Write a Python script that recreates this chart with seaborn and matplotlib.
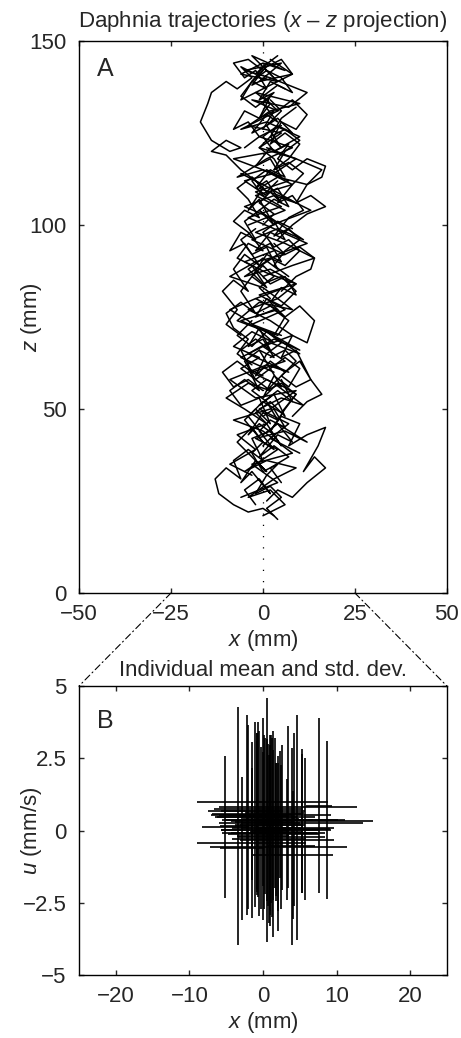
import pandas as pd
import numpy as np
import matplotlib
matplotlib.use("Agg")
import matplotlib.pyplot as plt
from matplotlib.patches import ConnectionPatch
import seaborn as sns

# Panel A: digitised trajectories (x, z in mm)
traj_a_x = [3, 0, -4, -8, -12, -13, -10, -6, -8, -4, 0, -3, 2, 5, 1, -2, 2, 6, 3, -1, 4, 8, 5]
traj_a_z = [21, 23, 22, 24, 27, 31, 34, 31, 36, 39, 36, 42, 44, 40, 46, 49, 52, 48, 54, 51, 55, 52, 58]
traj_b_x = [1, 4, 8, 12, 17, 14, 11, 15, 17, 12, 7, 10, 5, 2, 6, 9, 4, 0, 3, 7, 10, 6, 2, -1]
traj_b_z = [25, 28, 26, 30, 34, 37, 33, 40, 45, 43, 40, 46, 48, 44, 50, 54, 57, 53, 59, 56, 61, 64, 61, 66]
traj_c_x = [-2, -5, -1, 2, -3, -6, -2, 1, -4, -7, -3, 0, -5, -2, 2, -1, -6, -9, -5, -1, -4, 0]
traj_c_z = [24, 28, 31, 27, 33, 30, 36, 33, 38, 41, 45, 41, 47, 50, 46, 53, 51, 55, 58, 55, 61, 59]
traj_d_x = [5, 2, 7, 3, -1, 4, 8, 4, 0, -4, 0, 5, 9, 5, 1, 6, 2, -2, 1, 5, 1, -3, -7, -3]
traj_d_z = [30, 34, 37, 40, 37, 43, 41, 46, 43, 48, 52, 49, 54, 57, 55, 60, 63, 59, 65, 68, 71, 67, 70, 74]
traj_e_x = [0, -4, -8, -11, -7, -3, -6, -2, 2, -1, 4, 7, 3, -2, 1, 5, 9, 5, 0, -4, 0, 4, 1, -3, -6, -2]
traj_e_z = [55, 58, 56, 60, 63, 60, 66, 69, 66, 72, 70, 74, 77, 75, 80, 78, 82, 86, 84, 88, 91, 88, 94, 92, 96, 99]
traj_f_x = [6, 10, 13, 9, 5, 8, 12, 14, 10, 6, 2, 5, 9, 6, 2, -2, 2, 6, 10, 7, 3, 0, 4, 8]
traj_f_z = [60, 63, 58, 66, 64, 70, 68, 74, 78, 75, 79, 83, 81, 86, 84, 88, 91, 89, 93, 96, 94, 98, 101, 99]
traj_g_x = [-6, -10, -7, -11, -8, -4, -8, -5, -1, -5, -9, -6, -2, -5, -1, 3, -1, -4, 0, -3, 1, 4]
traj_g_z = [70, 73, 77, 82, 85, 82, 88, 92, 89, 95, 93, 98, 96, 101, 104, 100, 107, 104, 110, 113, 109, 112]
traj_h_x = [2, -1, 3, 0, -3, 1, 5, 2, -2, 2, 6, 3, -1, 3, 7, 4, 0, -3, 1, 5, 2, -2, 2, 5]
traj_h_z = [80, 83, 86, 89, 86, 92, 90, 95, 93, 98, 96, 101, 104, 107, 105, 110, 108, 112, 115, 113, 118, 116, 121, 119]
traj_i_x = [4, 8, 12, 17, 13, 9, 12, 16, 17, 12, 8, 4, 7, 3, 0, 4, 8, 4, 1, 5, 2]
traj_i_z = [96, 100, 103, 105, 108, 106, 111, 113, 116, 118, 115, 118, 122, 120, 124, 127, 125, 129, 127, 131, 134]
traj_j_x = [-2, -6, -10, -14, -10, -6, -9, -14, -17, -15, -14, -10, -7, -3, -6, -2, 1, -3, -6, -2, 2, -1, 3, 0]
traj_j_z = [112, 115, 119, 120, 123, 121, 120, 123, 128, 133, 136, 139, 137, 140, 143, 141, 144, 139, 135, 132, 135, 129, 131, 126]
traj_k_x = [3, 7, 10, 6, 2, 5, 9, 12, 8, 4, 0, 4, 8, 5, 1, -3, 1, 5, 8, 4, 0, 4]
traj_k_z = [115, 118, 122, 125, 122, 128, 126, 130, 134, 131, 135, 138, 136, 140, 142, 139, 143, 145, 141, 139, 143, 146]
traj_l_x = [-5, -1, -4, -8, -5, -1, 2, -2, -6, -3, 1, -2, -5, -8, -4, 0, -3, 1]
traj_l_z = [121, 124, 128, 126, 131, 129, 133, 136, 134, 139, 137, 142, 140, 144, 145, 142, 138, 140]
traj_m_x = [0, 3, -1, -4, 0, 4, 1, -3, 1, 5, 2, -2, -5, -1, 3, 0, -4, -1, 3, 6, 2, -2]
traj_m_z = [40, 43, 46, 43, 49, 47, 52, 55, 58, 56, 61, 58, 63, 66, 64, 69, 67, 72, 70, 75, 78, 76]
traj_n_x = [0, 3, -1, 2, 5, 1, -2, 2, 6, 3, -1, 2, 5, 1, -3, 1, 4, 0, 3, -1, 2, 6]
traj_n_z = [100, 103, 106, 109, 106, 112, 110, 115, 113, 118, 121, 124, 121, 127, 125, 130, 128, 133, 136, 134, 139, 137]
traj_o_x = [8, 12, 16, 13, 9, 5, 9, 6, 2]
traj_o_z = [48, 52, 54, 58, 56, 59, 63, 66, 64]
traj_p_x = [5, 9, 13, 14, 10, 6, 3]
traj_p_z = [82, 86, 88, 91, 94, 92, 95]
traj_q_x = [4, 1, 5, 2, -2, 1, 4, 0, -3, 0, 3, -1, 2, 6, 3, 0]
traj_q_z = [20, 23, 26, 29, 27, 32, 35, 33, 38, 41, 39, 44, 47, 45, 50, 48]
traj_r_x = [-3, -7, -4, -8, -10, -6, -2, -6, -3, 1, -3, -7, -4, 0, -4, -8, -5, -1, -4, -7, -3]
traj_r_z = [62, 65, 69, 72, 76, 79, 76, 82, 86, 83, 89, 91, 95, 93, 98, 101, 104, 102, 107, 110, 113]
traj_s_x = [7, 3, 6, 10, 7, 3, 7, 11, 8, 4, 8, 11, 7, 3, 6, 10, 6, 2, 5, 9]
traj_s_z = [86, 89, 93, 96, 99, 97, 102, 104, 108, 106, 111, 114, 117, 115, 120, 123, 126, 124, 129, 132]
traj_t_x = [-6, 4, -3, 8, 0, -8, 2, 9, -2, -9, 1, 7, -4, 3, 10, 1, -6, 4, -2, 6]
traj_t_z = [26, 30, 35, 38, 44, 47, 50, 55, 53, 58, 62, 60, 65, 69, 66, 71, 74, 77, 80, 83]
traj_u_x = [3, -6, 2, 10, 1, -7, -1, 8, 0, -9, -2, 6, -3, 4, 11, 2, -5, 3, 9, 0, -6]
traj_u_z = [60, 64, 68, 65, 71, 74, 79, 77, 83, 86, 90, 92, 96, 99, 96, 102, 105, 108, 106, 111, 114]
traj_v_x = [-4, 6, -2, 8, 0, -8, 3, 10, 1, -6, 4, -3, 7, 12, 2, -5, 5, -1, 8, 2]
traj_v_z = [100, 104, 108, 111, 115, 118, 120, 124, 128, 126, 131, 134, 132, 136, 140, 142, 144, 139, 141, 145]
traj_w_x = [-3, -9, -2, -7, 1, -5, -10, -4, 2, -6, -1, -8, -3, 3, -4, -9, -2]
traj_w_z = [32, 35, 39, 43, 46, 50, 53, 57, 55, 61, 64, 67, 71, 68, 74, 77, 80]
traj_x_x = [5, -3, 6, -1, 9, 2, -5, 4, 12, 3, -4, 5, -2, 7, 0, -7, 1, 8, -1, 5]
traj_x_z = [70, 73, 77, 81, 84, 88, 86, 92, 95, 99, 102, 105, 109, 112, 115, 113, 118, 121, 124, 127]
traj_y_x = [10, 2, 7, -1, 5, 11, 3, -3, 6, 0, 8, 2, -4, 4, 9, 1, -5, 3]
traj_y_z = [38, 42, 46, 50, 53, 51, 57, 60, 63, 67, 70, 74, 77, 80, 84, 87, 90, 93]
traj_z_x = [1, -5, 3, 9, -1, 5, -4, 2, 10, -2, 4, -6, 0, 6, -3, 3]
traj_z_z = [108, 112, 114, 118, 121, 125, 127, 131, 133, 136, 139, 141, 144, 142, 146, 140]
traj_aa_x = [0, 6, 2, -4, 3, 9, 1, -5, 4, -2, 6, 12, 4]
traj_aa_z = [21, 24, 28, 26, 31, 34, 36, 33, 39, 42, 44, 41, 46]
traj_ab_x = [0, 8, 14, 6, -2, 5, 13, 7, -1, 4, 12, 16, 9, 1]
traj_ab_z = [86, 89, 91, 95, 98, 101, 104, 107, 110, 113, 111, 115, 118, 121]

# Panel B: individual mean and std. dev. of x (mm) and u (mm/s)
mean_x = [-5.1, -3.36, -2.85, -2.22, -2.0, -1.54, -1.04, -0.72, -0.04, 0.5, 0.95, 1.4, 1.77, 2.08,
          2.49, 3.22, 3.9, 4.2, 4.62, 5.66, 7.65, 8.65, 3.4, -1.5, 2.1, 4.1, 5.3, 5.3, -0.87, -0.75,
          -0.86, 0.9, 0.2, 0.7, 1.1, 1.2, 0.0, 1.6, 2.6, -0.3,
          0.3, 0.8, 1.3, 1.0, 0.6, -0.5, 1.8, 2.3]
sd_x = [3.2, 2.5, 3.0, 4.8, 4.5, 4.2, 5.0, 6.0, 8.9, 5.5, 6.6, 6.2, 7.5, 6.4,
        5.9, 6.4, 3.2, 6.0, 5.0, 3.5, 1.8, 2.5, 9.4, 7.4, 9.3, 5.4, 9.6, 8.3, 6.57, 6.23,
        5.44, 6.4, 4.0, 4.5, 3.8, 4.2, 3.5, 4.0, 4.5, 3.9,
        3.0, 5.0, 4.4, 2.5, 6.2, 5.5, 3.5, 7.0]
mean_u = [0.13, 0.16, -0.62, 0.54, 0.47, 0.68, 0.55, 0.73, 0.99, 0.36, 0.02, -0.12, 0.02, -0.1,
          -0.22, -0.32, -0.55, 0.38, 0.1, 0.05, 0.86, 0.36, 0.82, -0.44, -0.58, -0.85, 0.33, 0.25, 0.69, 0.57,
          0.48, -0.1, 0.3, 0.2, 0.4, 0.1, -0.2, 0.6, 0.45, 0.1,
          0.5, -0.3, 0.2, 0.0, 0.35, 0.25, -0.05, 0.55]
sd_u = [2.45, 4.12, 2.48, 3.46, 3.17, 2.39, 3.2, 3.03, 2.9, 4.21, 2.94, 3.55, 2.3, 2.67,
        2.5, 2.1, 3.4, 2.98, 3.9, 2.45, 3.02, 2.73, 2.8, 2.6, 2.9, 2.2, 2.5, 2.4, 2.7, 2.8,
        2.6, 2.7, 3.0, 2.8, 2.9, 3.1, 2.9, 2.6, 2.5, 2.8,
        2.7, 2.9, 2.6, 3.3, 2.8, 3.2, 2.4, 2.2]

tracks = [
    (traj_a_x, traj_a_z), (traj_b_x, traj_b_z), (traj_c_x, traj_c_z), (traj_d_x, traj_d_z),
    (traj_e_x, traj_e_z), (traj_f_x, traj_f_z), (traj_g_x, traj_g_z), (traj_h_x, traj_h_z),
    (traj_i_x, traj_i_z), (traj_j_x, traj_j_z), (traj_k_x, traj_k_z), (traj_l_x, traj_l_z),
    (traj_m_x, traj_m_z), (traj_n_x, traj_n_z), (traj_o_x, traj_o_z), (traj_p_x, traj_p_z),
    (traj_q_x, traj_q_z), (traj_r_x, traj_r_z), (traj_s_x, traj_s_z), (traj_t_x, traj_t_z),
    (traj_u_x, traj_u_z), (traj_v_x, traj_v_z), (traj_w_x, traj_w_z), (traj_x_x, traj_x_z),
    (traj_y_x, traj_y_z), (traj_z_x, traj_z_z), (traj_aa_x, traj_aa_z), (traj_ab_x, traj_ab_z),
]
rows = []
for i, (tx, tz) in enumerate(tracks):
    for j, (xv, zv) in enumerate(zip(tx, tz)):
        rows.append({"id": i, "step": j, "x": xv, "z": zv})
df = pd.DataFrame(rows)

sns.set_style("ticks")
plt.rcParams["font.family"] = ["Liberation Sans", "DejaVu Sans"]
plt.rcParams["mathtext.fontset"] = "custom"
plt.rcParams["mathtext.rm"] = "Liberation Sans"
plt.rcParams["mathtext.it"] = "Liberation Sans:italic"
plt.rcParams["axes.linewidth"] = 1.0
plt.rcParams["xtick.direction"] = "in"
plt.rcParams["ytick.direction"] = "in"
plt.rcParams["xtick.major.size"] = 3.5
plt.rcParams["ytick.major.size"] = 3.5

FS = 16

fig = plt.figure(figsize=(4.61, 10.38), dpi=100)
ax1 = fig.add_axes([0.1714, 0.4287, 0.798, 0.5318])
ax2 = fig.add_axes([0.1714, 0.0607, 0.798, 0.2784])

# Panel A
ax1.plot([0, 0], [0, 150], color="k", lw=0.9, linestyle=(0, (1, 8)))
sns.lineplot(data=df, x="x", y="z", units="id", estimator=None, sort=False,
             color="k", lw=1.1, ax=ax1, legend=False)
ax1.set_xlim(-50, 50)
ax1.set_ylim(0, 150)
ax1.set_xticks([-50, -25, 0, 25, 50])
ax1.set_yticks([0, 50, 100, 150])
ax1.set_xlabel("$x$ (mm)", fontsize=FS, labelpad=2)
ax1.set_ylabel("$z$ (mm)", fontsize=FS)
ax1.set_title("Daphnia trajectories ($x$ – $z$ projection)", fontsize=FS, pad=10)
ax1.text(0.05, 0.95, "A", transform=ax1.transAxes, fontsize=18, va="center", ha="left")

# Panel B
ax2.errorbar(mean_x, mean_u, xerr=sd_x, yerr=sd_u, fmt="none", ecolor="k",
             elinewidth=1.2, capsize=0)
ax2.set_xlim(-25, 25)
ax2.set_ylim(-5, 5)
ax2.set_xticks([-20, -10, 0, 10, 20])
ax2.set_yticks([-5, -2.5, 0, 2.5, 5])
ax2.set_yticklabels(["−5", "−2.5", "0", "2.5", "5"])
ax2.set_xlabel("$x$ (mm)", fontsize=FS, labelpad=2)
ax2.set_ylabel("$u$ (mm/s)", fontsize=FS)
ax2.set_title("Individual mean and std. dev.", fontsize=FS, pad=7)
ax2.text(0.05, 0.88, "B", transform=ax2.transAxes, fontsize=18, va="center", ha="left")

for ax in (ax1, ax2):
    ax.tick_params(top=True, right=True, labelsize=FS, width=1.0)
    ax.tick_params(axis="x", pad=8)
    ax.tick_params(axis="y", pad=9)
    ax.yaxis.set_label_coords(-0.095, 0.5)
    for s in ax.spines.values():
        s.set_visible(True)
        s.set_color("k")

# zoom connectors
for xv in (-25, 25):
    con = ConnectionPatch(xyA=(xv, 0), coordsA=ax1.transData,
                          xyB=(xv, 5), coordsB=ax2.transData,
                          color="k", lw=0.8, linestyle=(0, (6, 3, 1, 3)))
    fig.add_artist(con)

fig.savefig("out.png", dpi=100)
